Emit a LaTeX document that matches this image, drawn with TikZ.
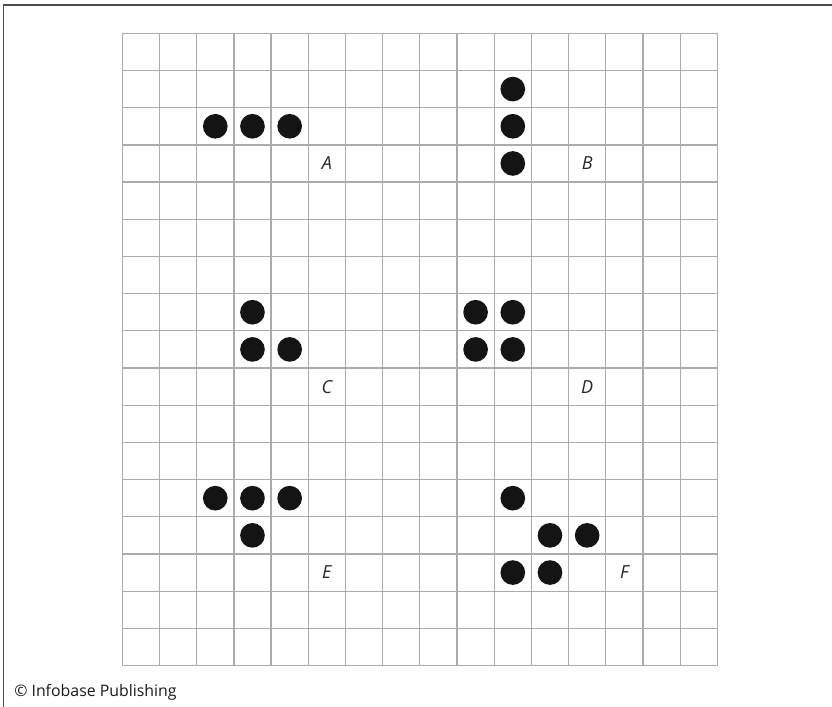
\documentclass[tikz,border=0pt]{standalone}
\usepackage{fontspec}
\setmainfont{Open Sans}
\begin{document}
\begin{tikzpicture}[x=0.75pt,y=-0.75pt,
  gridline/.style={draw=black!33,line width=0.95pt},
  frameline/.style={draw=black!70,line width=1.1pt},
  cell/.style={circle,fill=black!92,inner sep=0pt,minimum size=18.5pt},
  lbl/.style={font=\fontsize{13.5}{16}\selectfont\itshape,text=black!85}]
\useasboundingbox (0,0) rectangle (832,707);
% frame
\draw[frameline] (832,5) -- (3.5,5) -- (3.5,707);
% grid 16 x 17 cells
\def\gx{122.3}\def\gy{33.3}\def\cw{37.19}
\foreach \i in {0,...,16} \draw[gridline] ({\gx+\i*\cw},\gy) -- ({\gx+\i*\cw},{\gy+17*\cw});
\foreach \j in {0,...,17} \draw[gridline] (\gx,{\gy+\j*\cw}) -- ({\gx+16*\cw},{\gy+\j*\cw});
% helper: cell centre
\newcommand{\cc}[2]{({\gx+(#1+0.5)*\cw},{\gy+(#2+0.5)*\cw})}
% A
\node[cell] (a1) at \cc{2}{2} {};
\node[cell] (a2) at \cc{3}{2} {};
\node[cell] (a3) at \cc{4}{2} {};
\node[lbl] (la) at \cc{5}{3} {A};
% B
\node[cell] (b1) at \cc{10}{1} {};
\node[cell] (b2) at \cc{10}{2} {};
\node[cell] (b3) at \cc{10}{3} {};
\node[lbl] (lb) at \cc{12}{3} {B};
% C
\node[cell] (c1) at \cc{3}{7} {};
\node[cell] (c2) at \cc{3}{8} {};
\node[cell] (c3) at \cc{4}{8} {};
\node[lbl] (lc) at \cc{5}{9} {C};
% D
\node[cell] (d1) at \cc{9}{7} {};
\node[cell] (d2) at \cc{10}{7} {};
\node[cell] (d3) at \cc{9}{8} {};
\node[cell] (d4) at \cc{10}{8} {};
\node[lbl] (ld) at \cc{12}{9} {D};
% E
\node[cell] (e1) at \cc{2}{12} {};
\node[cell] (e2) at \cc{3}{12} {};
\node[cell] (e3) at \cc{4}{12} {};
\node[cell] (e4) at \cc{3}{13} {};
\node[lbl] (le) at \cc{5}{14} {E};
% F
\node[cell] (f1) at \cc{10}{12} {};
\node[cell] (f2) at \cc{11}{13} {};
\node[cell] (f3) at \cc{12}{13} {};
\node[cell] (f4) at \cc{10}{14} {};
\node[cell] (f5) at \cc{11}{14} {};
\node[lbl] (lf) at \cc{13}{14} {F};
% credit
\node[anchor=base west,inner sep=0pt,font=\fontsize{11.9}{14}\selectfont,text=black!90] (credit) at (14,696) {© Infobase Publishing};
\end{tikzpicture}
\end{document}
